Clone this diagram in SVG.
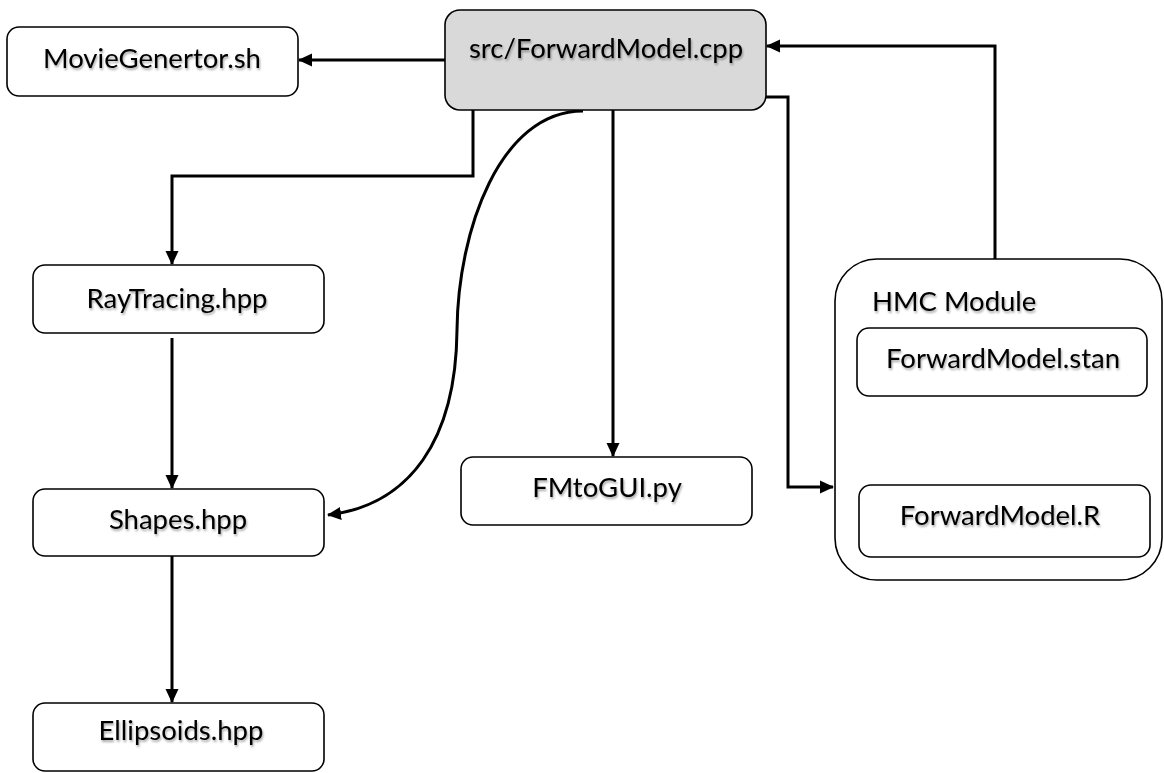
<svg xmlns="http://www.w3.org/2000/svg" width="1164" height="773" viewBox="0 0 1164 773">
  <style>
    .box { fill: #ffffff; stroke: #000000; stroke-width: 1.6; }
    .main { fill: #d9d9d9; }
    .lbl { font-family: Lato, "Open Sans", sans-serif; font-size: 27.5px; fill: #000000; text-anchor: middle; filter: url(#soft); }
    .edge { fill: none; stroke: #000000; stroke-width: 3; marker-end: url(#arrow); }
  </style>
  <defs>
    <marker id="arrow" viewBox="0 0 14 14" refX="13" refY="7" markerWidth="14" markerHeight="14" markerUnits="userSpaceOnUse" orient="auto">
      <path d="M0 0.5 L14 7 L0 13.5 Z" fill="#000000"/>
    </marker>
    <filter id="soft" x="-10%" y="-30%" width="120%" height="160%">
      <feDropShadow dx="1" dy="2" stdDeviation="1.2" flood-color="#000000" flood-opacity="0.35"/>
    </filter>
  </defs>

  <!-- connectors -->
  <g id="connectors">
    <path class="edge" d="M445 60 L299 60"/>
    <path class="edge" d="M473 110 L473 176 L172 176 L172 264"/>
    <path class="edge" d="M172 338 L172 488"/>
    <path class="edge" d="M172 556 L172 702"/>
    <path class="edge" d="M583 111 C500 111 458 230 457 330 C456 440 410 505 328 515"/>
    <path class="edge" d="M613 110 L613 456"/>
    <path class="edge" d="M766 97 L788 97 L788 487 L833 487"/>
    <path class="edge" d="M995 259 L995 46 L767 46"/>
    <path class="edge" d="M995 396 L995 484"/>
  </g>

  <g id="n-main">
    <rect class="box main" x="445" y="10" width="321" height="100" rx="15"/>
    <text class="lbl" x="606" y="58">src/ForwardModel.cpp</text>
  </g>
  <g id="n-movie">
    <rect class="box" x="7" y="27" width="291" height="69" rx="12"/>
    <text class="lbl" x="152" y="68">MovieGenertor.sh</text>
  </g>
  <g id="n-raytracing">
    <rect class="box" x="33" y="265" width="291" height="68" rx="12"/>
    <text class="lbl" x="177" y="308">RayTracing.hpp</text>
  </g>
  <g id="n-shapes">
    <rect class="box" x="33" y="489" width="291" height="67" rx="12"/>
    <text class="lbl" x="178" y="529">Shapes.hpp</text>
  </g>
  <g id="n-ellipsoids">
    <rect class="box" x="33" y="703" width="291" height="68" rx="12"/>
    <text class="lbl" x="181" y="740">Ellipsoids.hpp</text>
  </g>
  <g id="n-fmtogui">
    <rect class="box" x="461" y="457" width="291" height="68" rx="12"/>
    <text class="lbl" x="607" y="497">FMtoGUI.py</text>
  </g>
  <g id="n-hmc">
    <rect class="box" x="835" y="259" width="327" height="321" rx="42"/>
    <text class="lbl" x="872" y="311" style="text-anchor:start">HMC Module</text>
  </g>
  <g id="n-stan">
    <rect class="box" x="857" y="328" width="290" height="68" rx="12"/>
    <text class="lbl" x="1003" y="368">ForwardModel.stan</text>
  </g>
  <g id="n-r">
    <rect class="box" x="859" y="485" width="291" height="72" rx="12"/>
    <text class="lbl" x="1000" y="525">ForwardModel.R</text>
  </g>
</svg>
